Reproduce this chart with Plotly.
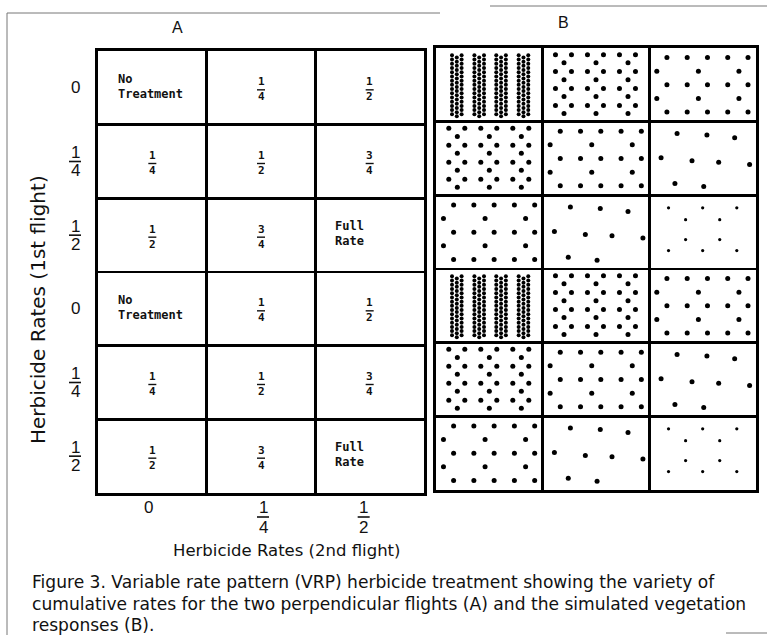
import plotly.graph_objects as go

W, H = 767, 635

# ---------------- data ----------------
ROW_RATES = [0, 0.25, 0.5, 0, 0.25, 0.5]          # 1st flight (rows, top to bottom)
COL_RATES = [0, 0.25, 0.5]                        # 2nd flight (columns)
ROW_TICK_TEXT = ["0", "1/4", "1/2", "0", "1/4", "1/2"]
COL_TICK_TEXT = ["0", "1/4", "1/2"]
COL_TICK_SHIFT = [-4, 2, -6]
RATE_LABELS = {0: "No|Treatment", 0.25: "1/4", 0.5: "1/2", 0.75: "3/4", 1.0: "Full|Rate"}

# simulated vegetation patterns (relative positions inside a cell)
NONE_STRIPE_U = [0.15, 0.36, 0.565, 0.775]
NONE_COL_OFFSET = [0.0, 0.045, 0.09]
NONE_V = [0.10, 0.157, 0.214, 0.271, 0.329, 0.386, 0.443, 0.5, 0.557, 0.614,
          0.671, 0.729, 0.786, 0.843, 0.9]

Q1_V = [0.09, 0.2, 0.32, 0.43, 0.55, 0.66, 0.78, 0.89]
Q1_U_LONG = [0.12, 0.27, 0.42, 0.57, 0.72, 0.87]
Q1_U_SHORT = [0.2, 0.5, 0.8]

HALF_V = [0.13, 0.315, 0.5, 0.685, 0.87]
HALF_U_LONG = [0.165, 0.355, 0.545, 0.735, 0.925]
HALF_U_SHORT = [0.07, 0.46, 0.84]

TQ_U = [0.26, 0.54, 0.80, 0.11, 0.40, 0.65, 0.94, 0.24, 0.51]
TQ_V = [0.16, 0.18, 0.22, 0.49, 0.53, 0.55, 0.58, 0.84, 0.88]

FULL_V = [0.17, 0.33, 0.6, 0.75]
FULL_U_LONG = [0.18, 0.5, 0.82]
FULL_U_SHORT = [0.34, 0.66]

CAPTION = [
    "Figure 3. Variable rate pattern (VRP) herbicide treatment showing the variety of",
    "cumulative rates for the two perpendicular flights (A) and the simulated vegetation",
    "responses (B).",
]

# ---------------- layout geometry (pixels) ----------------
A_X, A_Y = (98, 424), (51, 493)
B_X, B_Y = (436, 756), (48, 490)
AUX = (A_X[1] - A_X[0]) / 3.0   # px per x unit in panel A
AUY = (A_Y[1] - A_Y[0]) / 6.0   # px per y unit in panel A


def px(p):
    return p / W


def py(p):
    return 1 - p / H


def pattern(total):
    pts = []
    if total == 0:
        for s in NONE_STRIPE_U:
            for j, o in enumerate(NONE_COL_OFFSET):
                for v in NONE_V:
                    vv = v + (0.028 if j == 1 else 0)
                    if vv <= 0.93:
                        pts.append((s + o, vv, 4))
    elif total == 0.25:
        for i, v in enumerate(Q1_V):
            for u in (Q1_U_LONG if i % 2 == 0 else Q1_U_SHORT):
                pts.append((u, v, 5))
    elif total == 0.5:
        for i, v in enumerate(HALF_V):
            for u in (HALF_U_LONG if i % 2 == 0 else HALF_U_SHORT):
                pts.append((u, v, 5))
    elif total == 0.75:
        for u, v in zip(TQ_U, TQ_V):
            pts.append((u, v, 5))
    else:
        for i, v in enumerate(FULL_V):
            for u in (FULL_U_LONG if i in (0, 3) else FULL_U_SHORT):
                pts.append((u, v, 3.2))
    return pts


fig = go.Figure()

# invisible trace to anchor panel A
fig.add_trace(go.Scatter(x=[0.5], y=[0.5], mode="markers", marker=dict(opacity=0),
                         xaxis="x", yaxis="y", hoverinfo="skip", showlegend=False))

dx, dy, ds = [], [], []
for r, rr in enumerate(ROW_RATES):
    for c, cr in enumerate(COL_RATES):
        for u, v, s in pattern(rr + cr):
            dx.append(c + u)
            dy.append(r + v)
            ds.append(s)
fig.add_trace(go.Scatter(x=dx, y=dy, mode="markers", xaxis="x2", yaxis="y2",
                         marker=dict(color="#000", size=ds, opacity=1, line=dict(width=0)),
                         hoverinfo="skip", showlegend=False))

annotations = []
shapes = []
CELL_FONT = dict(family="DejaVu Sans Mono", size=12, color="#111", weight="bold")
FRAC_FONT = dict(family="DejaVu Sans Mono", size=11, color="#111", weight="bold")
SANS = "Liberation Sans"
WIDE = "DejaVu Sans"

for r, rr in enumerate(ROW_RATES):
    for c, cr in enumerate(COL_RATES):
        lab = RATE_LABELS[rr + cr]
        if "|" in lab:
            l1, l2 = lab.split("|")
            for t, ys in ((l1, 9), (l2, -6)):
                annotations.append(dict(x=c, y=r + 0.5, xref="x", yref="y", text=t,
                                        xanchor="left", yanchor="middle", xshift=18,
                                        yshift=ys, showarrow=False, font=CELL_FONT))
        else:
            n, d = lab.split("/")
            for t, ys in ((n, 6), (d, -9)):
                annotations.append(dict(x=c + 0.5, y=r + 0.5, xref="x", yref="y", text=t,
                                        xanchor="center", yanchor="middle", yshift=ys,
                                        showarrow=False, font=FRAC_FONT))
            yb = r + 0.5 + 2.0 / AUY
            shapes.append(dict(type="line", xref="x", yref="y",
                               x0=c + 0.5 - 4.0 / AUX, x1=c + 0.5 + 4.0 / AUX,
                               y0=yb, y1=yb, line=dict(color="#111", width=1.4)))

TICK_FONT = dict(family=SANS, size=17, color="#111")
# row tick labels (1st flight)
for r, t in enumerate(ROW_TICK_TEXT):
    if "/" in t:
        n, d = t.split("/")
        for tt, ys in ((n, 9), (d, -9)):
            annotations.append(dict(x=px(75), y=r + 0.5, xref="paper", yref="y", text=tt,
                                    xanchor="center", yanchor="middle", yshift=ys,
                                    showarrow=False, font=TICK_FONT))
        shapes.append(dict(type="line", xref="paper", yref="y", x0=px(69), x1=px(81),
                           y0=r + 0.5, y1=r + 0.5,
                           line=dict(color="#111", width=1.6)))
    else:
        annotations.append(dict(x=px(75), y=r + 0.5, xref="paper", yref="y", text=t,
                                xanchor="center", yanchor="middle", showarrow=False,
                                font=TICK_FONT))

# column tick labels (2nd flight)
for c, t in enumerate(COL_TICK_TEXT):
    sh = COL_TICK_SHIFT[c]
    if "/" in t:
        n, d = t.split("/")
        for tt, yp in ((n, 507), (d, 527)):
            annotations.append(dict(x=c + 0.5, y=py(yp), xref="x", yref="paper", text=tt,
                                    xanchor="center", yanchor="middle", xshift=sh,
                                    showarrow=False, font=TICK_FONT))
        shapes.append(dict(type="line", xref="x", yref="paper",
                           x0=c + 0.5 + (sh - 6) / AUX, x1=c + 0.5 + (sh + 6) / AUX,
                           y0=py(517), y1=py(517),
                           line=dict(color="#111", width=1.6)))
    else:
        annotations.append(dict(x=c + 0.5, y=py(507), xref="x", yref="paper", text=t,
                                xanchor="center", yanchor="middle", xshift=sh,
                                showarrow=False, font=TICK_FONT))

# titles
annotations += [
    dict(x=px(177), y=py(27), xref="paper", yref="paper", text="A", showarrow=False,
         xanchor="center", yanchor="middle", font=dict(family=SANS, size=16, color="#111")),
    dict(x=px(563), y=py(22), xref="paper", yref="paper", text="B", showarrow=False,
         xanchor="center", yanchor="middle", font=dict(family=SANS, size=16, color="#111")),
    dict(x=px(287), y=py(550), xref="paper", yref="paper", text="Herbicide Rates (2nd flight)",
         showarrow=False, xanchor="center", yanchor="middle",
         font=dict(family=WIDE, size=16.5, color="#111")),
    dict(x=px(38), y=py(310), xref="paper", yref="paper", text="Herbicide Rates (1st flight)",
         showarrow=False, xanchor="center", yanchor="middle", textangle=-90,
         font=dict(family=WIDE, size=20, color="#111")),
]
for i, line in enumerate(CAPTION):
    annotations.append(dict(x=px(30), y=py(582 + 21.5 * i), xref="paper", yref="paper",
                            text=line, showarrow=False, xanchor="left", yanchor="middle",
                            font=dict(family=WIDE, size=17.1, color="#111")))

# scan frame
FR = dict(color="#777", width=1)
shapes += [
    dict(type="line", xref="paper", yref="paper", x0=px(7), x1=px(7), y0=py(13), y1=py(635), line=FR),
    dict(type="line", xref="paper", yref="paper", x0=px(7), x1=px(440), y0=py(13), y1=py(13), line=FR),
    dict(type="line", xref="paper", yref="paper", x0=px(490), x1=px(767), y0=py(6), y1=py(6), line=FR),
    dict(type="line", xref="paper", yref="paper", x0=px(726), x1=px(767), y0=py(633), y1=py(633), line=FR),
]


def xax(dom):
    return dict(domain=[px(dom[0]), px(dom[1])], range=[0, 3], dtick=1, tick0=0,
                showgrid=True, gridcolor="black", gridwidth=2.5, showline=True,
                linecolor="black", linewidth=3, mirror=True, showticklabels=False,
                ticks="", zeroline=False, fixedrange=True)


def yax(dom):
    return dict(domain=[py(dom[1]), py(dom[0])], range=[6, 0], dtick=1, tick0=0,
                showgrid=True, gridcolor="black", gridwidth=2.5, showline=True,
                linecolor="black", linewidth=3, mirror=True, showticklabels=False,
                ticks="", zeroline=False, fixedrange=True)


fig.update_layout(
    width=W, height=H, autosize=False,
    margin=dict(l=0, r=0, t=0, b=0),
    paper_bgcolor="white", plot_bgcolor="white",
    xaxis=dict(xax(A_X), anchor="y"),
    yaxis=dict(yax(A_Y), anchor="x"),
    xaxis2=dict(xax(B_X), anchor="y2"),
    yaxis2=dict(yax(B_Y), anchor="x2"),
    annotations=annotations, shapes=shapes, showlegend=False,
)

fig.write_html("out.html", config={"displayModeBar": False, "staticPlot": True},
               post_script="document.body.style.margin='0px';document.body.style.overflow='hidden';")
